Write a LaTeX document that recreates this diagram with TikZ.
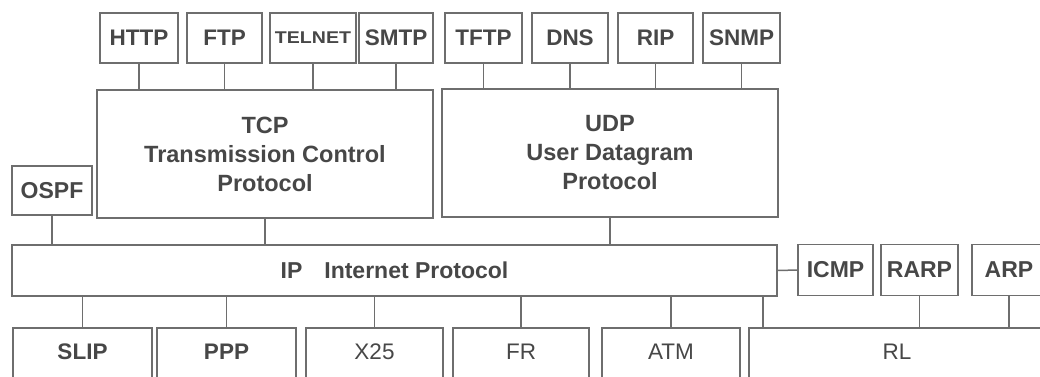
\documentclass[tikz,border=0pt]{standalone}
\usepackage{fontspec}
\usepackage{graphicx}
\setmainfont{Liberation Sans}
\definecolor{linec}{HTML}{6E6E6E}
\definecolor{textc}{HTML}{474747}
\begin{document}
\begin{tikzpicture}[x=1pt,y=-1pt,
  line/.style={draw=linec, line width=1.5pt},
  lbl/.style={text=textc, font=\fontsize{22.5}{29}\selectfont\bfseries, align=center},
  box/.style={line, fill=white, inner sep=0pt, outer sep=0pt, lbl},
  topbox/.style={box, minimum height=50},
  midbox/.style={box, minimum height=51},
  bbox/.style={inner sep=0pt, outer sep=0pt, minimum height=48, lbl},
  reg/.style={font=\fontsize{22.5}{29}\selectfont}]
\clip (0,0) rectangle (1040,376);
\fill[white] (0,0) rectangle (1040,376);
% top row
\node[topbox, minimum width=78] (http)   at (139,38)   {HTTP};
\node[topbox, minimum width=75] (ftp)    at (224.5,38) {FTP};
\node[topbox, minimum width=86] (telnet) at (313,38)   {\scalebox{1.15}[1]{\fontsize{17}{17}\selectfont TELNET}};
\node[topbox, minimum width=74] (smtp)   at (396,38)   {SMTP};
\node[topbox, minimum width=77] (tftp)   at (483.5,38) {TFTP};
\node[topbox, minimum width=76] (dns)    at (570,38)   {DNS};
\node[topbox, minimum width=75] (rip)    at (655.5,38) {RIP};
\node[topbox, minimum width=77] (snmp)   at (741.5,38) {SNMP};
% transport
\node[box, minimum width=336, minimum height=128, font=\fontsize{23.5}{29}\selectfont\bfseries] (tcp) at (265,154) {TCP\\Transmission Control\\Protocol};
\node[box, minimum width=336, minimum height=128, font=\fontsize{23.5}{29}\selectfont\bfseries] (udp) at (610,153) {UDP\\User Datagram\\Protocol};
\node[box, minimum width=80, minimum height=49, font=\fontsize{23}{29}\selectfont\bfseries] (ospf) at (52,190.5) {OSPF};
% network
\node[midbox, minimum width=765, font=\fontsize{23}{29}\selectfont\bfseries] (ip) at (394.5,270.5) {IP\hspace{22pt}Internet Protocol};
\node[midbox, minimum width=75, font=\fontsize{23}{29}\selectfont\bfseries] (icmp) at (835.5,270) {ICMP};
\node[midbox, minimum width=77, font=\fontsize{23}{29}\selectfont\bfseries] (rarp) at (919.5,270) {RARP};
\node[midbox, minimum width=74, font=\fontsize{23}{29}\selectfont\bfseries] (arp)  at (1009,270)  {ARP};
% link layer
\node[bbox, minimum width=139] (slip) at (82.5,352) {SLIP};
\node[bbox, minimum width=139] (ppp)  at (226.5,352) {PPP};
\node[bbox, minimum width=137, reg] (x25) at (374.5,352) {X25};
\node[bbox, minimum width=136, reg] (fr)  at (521,352) {FR};
\node[bbox, minimum width=138, reg] (atm) at (671,352) {ATM};
\node[bbox, minimum width=296, reg] (rl)  at (897,352) {RL};
\foreach \b in {slip,ppp,x25,fr,atm,rl}
  \draw[line] ([yshift=-12pt]\b.south west) |- (\b.north east) -- ([yshift=-12pt]\b.south east);
% connectors
\foreach \t in {http,ftp,telnet,smtp} \draw[line] (\t.south) -- (\t.south |- tcp.north);
\foreach \t in {tftp,dns,rip,snmp} \draw[line] (\t.south) -- (\t.south |- udp.north);
\draw[line] (ospf.south) -- (ospf.south |- ip.north);
\draw[line] (tcp.south) -- (tcp.south |- ip.north);
\draw[line] (udp.south) -- (udp.south |- ip.north);
\draw[line] (ip.east) -- (icmp.west);
\foreach \b in {slip,ppp,x25,fr,atm} \draw[line] (\b.north |- ip.south) -- (\b.north);
\draw[line] ([xshift=14pt]rl.north west |- ip.south) -- ([xshift=14pt]rl.north west);
\draw[line] (rarp.south) -- (rarp.south |- rl.north);
\draw[line] (arp.south) -- (arp.south |- rl.north);
\end{tikzpicture}
\end{document}
